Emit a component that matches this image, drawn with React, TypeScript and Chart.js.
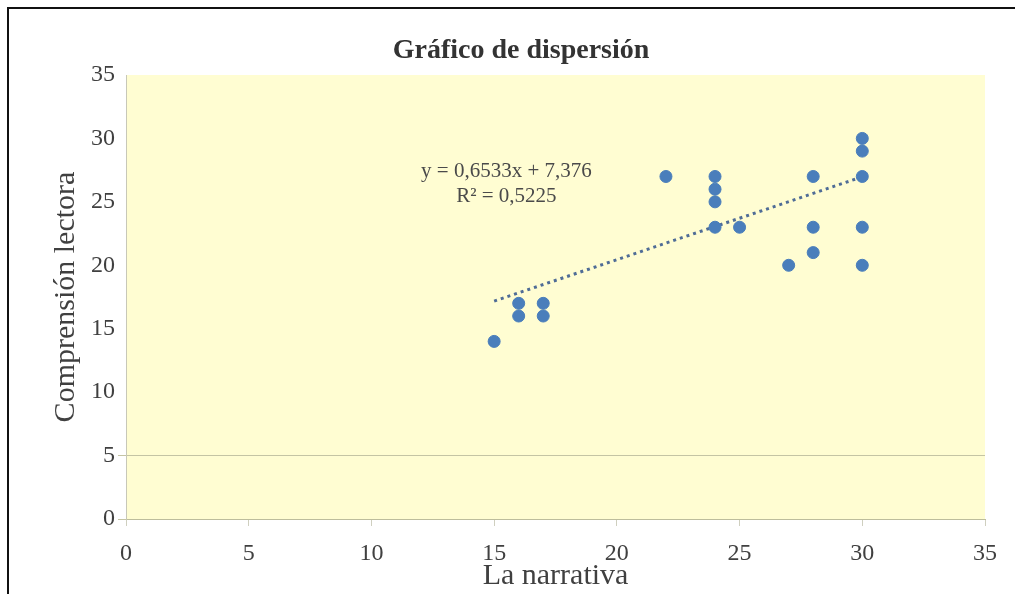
import React, { useEffect, useRef } from "react";
import { Chart, registerables } from "chart.js";

Chart.register(...registerables);

const narrativa: number[] = [15, 16, 16, 17, 17, 22, 24, 24, 24, 24, 25, 27, 28, 28, 28, 30, 30, 30, 30, 30];
const comprension: number[] = [14, 17, 16, 17, 16, 27, 27, 26, 25, 23, 23, 20, 27, 23, 21, 30, 29, 27, 23, 20];

const trendSlope = 0.6533;
const trendIntercept = 7.376;
const trendRange: number[] = [15, 30];

const equationText = "y = 0,6533x + 7,376";
const r2Text = "R² = 0,5225";
const equationAt: number[] = [15.5, 27.4];
const r2At: number[] = [15.5, 25.4];

const axisMin = 0;
const axisMax = 35;
const axisStep = 5;

const titleText = "Gráfico de dispersión";
const xTitle = "La narrativa";
const yTitle = "Comprensión lectora";

const FONT = "'Liberation Serif', 'Times New Roman', serif";

export default function App() {
  const ref = useRef<HTMLCanvasElement | null>(null);

  useEffect(() => {
    if (!ref.current) return;
    const points = narrativa.map((x, i) => ({ x, y: comprension[i] }));
    const trend = trendRange.map((x) => ({ x, y: trendSlope * x + trendIntercept }));

    const bgPlugin = {
      id: "bgPlugin",
      beforeDraw(chart: any) {
        const { ctx, chartArea } = chart;
        ctx.save();
        ctx.fillStyle = "#ffffff";
        ctx.fillRect(0, 0, chart.width, chart.height);
        ctx.fillStyle = "#FFFDD2";
        ctx.fillRect(chartArea.left, chartArea.top, chartArea.right - chartArea.left, chartArea.bottom - chartArea.top);
        ctx.restore();
      },
      afterDraw(chart: any) {
        const { ctx, scales } = chart;
        ctx.save();
        // title
        ctx.fillStyle = "#333333";
        ctx.font = `bold 28px ${FONT}`;
        ctx.textAlign = "center";
        ctx.textBaseline = "middle";
        ctx.fillText(titleText, 521, 51);
        // equation labels
        ctx.fillStyle = "#4a4a4a";
        ctx.font = `21px ${FONT}`;
        ctx.fillText(equationText, scales.x.getPixelForValue(equationAt[0]), scales.y.getPixelForValue(equationAt[1]));
        ctx.fillText(r2Text, scales.x.getPixelForValue(r2At[0]), scales.y.getPixelForValue(r2At[1]));
        // frame border
        ctx.strokeStyle = "#111111";
        ctx.lineWidth = 2;
        ctx.beginPath();
        ctx.moveTo(8, chart.height);
        ctx.lineTo(8, 8);
        ctx.lineTo(1015, 8);
        ctx.stroke();
        ctx.restore();
      },
    };

    const chart = new Chart(ref.current, {
      type: "scatter",
      data: {
        datasets: [
          {
            label: "Datos",
            data: points,
            backgroundColor: "#4A7EBB",
            borderColor: "#4A7EBB",
            pointRadius: 6,
            pointHoverRadius: 6,
            order: 1,
          },
          {
            label: "Tendencia",
            type: "line",
            data: trend,
            borderColor: "#4F6C96",
            borderWidth: 3,
            borderDash: [3, 4],
            pointRadius: 0,
            fill: false,
            order: 2,
          } as any,
        ],
      },
      options: {
        animation: false,
        responsive: true,
        maintainAspectRatio: false,
        layout: { padding: { left: 0, right: 32, top: 75, bottom: 0 } },
        plugins: {
          legend: { display: false },
          tooltip: { enabled: false },
          title: { display: false },
        },
        scales: {
          x: {
            type: "linear",
            min: axisMin,
            max: axisMax,
            afterFit: (s: any) => {
              s.height = 75;
            },
            ticks: {
              stepSize: axisStep,
              color: "#404040",
              padding: 13,
              font: { family: FONT, size: 24 },
            },
            grid: {
              drawOnChartArea: false,
              drawTicks: true,
              tickLength: 7,
              color: "#cfcfbf",
            },
            border: { color: "#bdbd9c", width: 1 },
            title: {
              display: true,
              text: xTitle,
              color: "#404040",
              font: { family: FONT, size: 30 },
              padding: { top: 0, bottom: 0 },
            },
          },
          y: {
            type: "linear",
            min: axisMin,
            max: axisMax,
            afterFit: (s: any) => {
              s.width = 126;
            },
            ticks: {
              stepSize: axisStep,
              color: "#404040",
              padding: 3,
              font: { family: FONT, size: 24 },
            },
            grid: {
              drawTicks: true,
              tickLength: 8,
              color: (c: any) => (c.tick && (c.tick.value === 5 || c.tick.value === 0) ? "#c4c4a4" : "rgba(0,0,0,0)"),
            },
            border: { color: "#c8c8b8", width: 1 },
            title: {
              display: true,
              text: yTitle,
              color: "#404040",
              font: { family: FONT, size: 30 },
              padding: { top: 48, bottom: 0 },
            },
          },
        },
      },
      plugins: [bgPlugin],
    } as any);

    return () => chart.destroy();
  }, []);

  return (
    <div style={{ position: "fixed", left: 0, top: 0, width: 1017, height: 594, background: "#fff" }}>
      <canvas ref={ref} />
    </div>
  );
}
